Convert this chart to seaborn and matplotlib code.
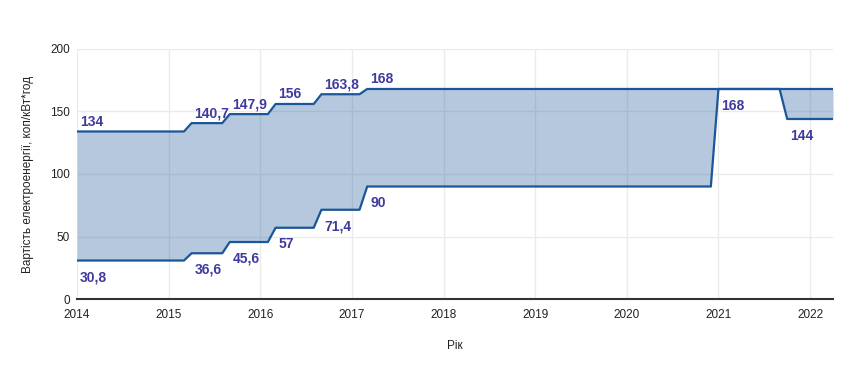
import numpy as np
import pandas as pd
import seaborn as sns
import matplotlib.pyplot as plt

# Дати зміни тарифу (у частках року) та значення меж
years = [2014.0, 2015.167, 2015.25, 2015.585, 2015.667, 2016.083, 2016.167,
         2016.583, 2016.667, 2017.083, 2017.167, 2020.917, 2021.0, 2021.667,
         2021.75, 2022.25]
upper = [134, 134, 140.7, 140.7, 147.9, 147.9, 156, 156, 163.8, 163.8,
         168, 168, 168, 168, 168, 168]
lower = [30.8, 30.8, 36.6, 36.6, 45.6, 45.6, 57, 57, 71.4, 71.4,
         90, 90, 168, 168, 144, 144]

# Підписи: позиція по x, значення
upper_labels_x = [2014.0, 2015.25, 2015.667, 2016.167, 2016.667, 2017.167]
upper_labels = [134, 140.7, 147.9, 156, 163.8, 168]
lower_labels_x = [2014.0, 2015.25, 2015.667, 2016.167, 2016.667, 2017.167, 2021.0, 2021.75]
lower_labels = [30.8, 36.6, 45.6, 57, 71.4, 90, 168, 144]

x_ticks = [2014, 2015, 2016, 2017, 2018, 2019, 2020, 2021, 2022]
y_ticks = [0, 50, 100, 150, 200]

LINE = "#1a5699"
TEXT = "#3f3a9e"

df = pd.DataFrame({"year": years, "upper": upper, "lower": lower})

sns.set_theme(style="whitegrid")
plt.rcParams['font.family'] = ['Liberation Sans', 'DejaVu Sans']

fig = plt.figure(figsize=(8.52, 3.71), dpi=100)
ax = fig.add_axes([0.0904, 0.194, 0.8873, 0.674])

ax.fill_between(df["year"], df["lower"], df["upper"], color=LINE, alpha=0.32, lw=0, zorder=2)
sns.lineplot(data=df, x="year", y="lower", color=LINE, lw=1.6, ax=ax, zorder=3)
sns.lineplot(data=df, x="year", y="upper", color=LINE, lw=1.6, ax=ax, zorder=4)

def fmt(v):
    s = f"{v:g}"
    return s.replace(".", ",")

for xv, v in zip(upper_labels_x, upper_labels):
    ax.annotate(fmt(v), (xv, v), xytext=(2, 2), textcoords="offset points",
                ha="left", va="bottom", color=TEXT, fontsize=10, fontweight="bold")
for xv, v in zip(lower_labels_x, lower_labels):
    ax.annotate(fmt(v), (xv, v), xytext=(2, -7), textcoords="offset points",
                ha="left", va="top", color=TEXT, fontsize=10, fontweight="bold")

ax.set_xlim(2014, 2022.25)
ax.set_ylim(0, 200)
ax.set_xticks(x_ticks)
ax.set_yticks(y_ticks)
ax.grid(True, color="#ebebeb", lw=1)
for s in ["top", "right", "left"]:
    ax.spines[s].set_visible(False)
ax.spines["bottom"].set_color("#333333")
ax.spines["bottom"].set_linewidth(1.5)
ax.tick_params(axis="both", length=0, labelsize=8.5, colors="#222222")
ax.tick_params(axis="x", pad=7)
ax.tick_params(axis="y", pad=5)
ax.set_xlabel("Рік", fontsize=8.5, color="#222222", labelpad=14)
ax.set_ylabel("Вартість електроенергії, коп/кВт*год", fontsize=8.5, color="#222222", labelpad=12)

plt.savefig("out.png", dpi=100)
plt.close()
